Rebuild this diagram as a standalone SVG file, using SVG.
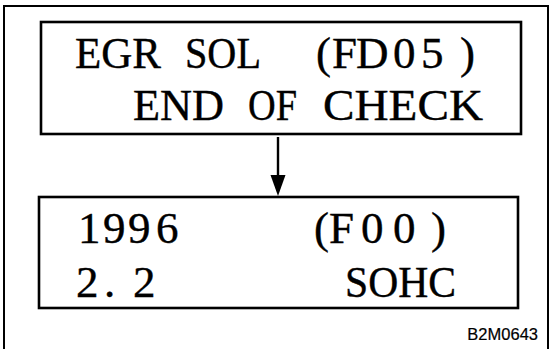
<svg xmlns="http://www.w3.org/2000/svg" width="550" height="349" viewBox="0 0 550 349">
<defs>
<style>
.frame{fill:none;stroke:#000;stroke-width:2}
.box{fill:#fff;stroke:#000;stroke-width:2.6}
.t{font-family:"Liberation Serif","Times New Roman",serif;font-size:45px;fill:#000;stroke:#000;stroke-width:0.4}
.code{font-family:"Liberation Sans",Arial,sans-serif;font-size:16.5px;fill:#000;stroke:#000;stroke-width:0.2}
.conn{stroke:#000;stroke-width:2.4;fill:none}
</style>
</defs>
<rect width="550" height="349" fill="#fff"/>
<rect class="frame" x="4" y="6" width="544" height="352"/>
<g id="connectors">
<line class="conn" x1="278" y1="137" x2="278" y2="180"/>
<polygon points="270.5,175 285.5,175 278,196" fill="#000"/>
</g>
<g id="node-top">
<rect class="box" x="41" y="22" width="480" height="112"/>
<text class="t" x="75" y="68" textLength="86" lengthAdjust="spacingAndGlyphs">EGR</text>
<text class="t" x="185" y="68" textLength="76" lengthAdjust="spacingAndGlyphs">SOL</text>
<text class="t" x="316 332 356 393 421 460" y="68">(FD05)</text>
<text class="t" x="133" y="120" textLength="91" lengthAdjust="spacingAndGlyphs">END</text>
<text class="t" x="248" y="120" textLength="49" lengthAdjust="spacingAndGlyphs">OF</text>
<text class="t" x="323" y="120" textLength="160" lengthAdjust="spacingAndGlyphs">CHECK</text>
</g>
<g id="node-bottom">
<rect class="box" x="39" y="197" width="479" height="111"/>
<text class="t" x="78 103 128 156" y="243">1996</text>
<text class="t" x="314 329 361 393 431" y="243">(F00)</text>
<text class="t" x="76 104 133" y="297">2.2</text>
<text class="t" x="345" y="297" textLength="111" lengthAdjust="spacingAndGlyphs">SOHC</text>
</g>
<text class="code" x="538" y="340" text-anchor="end">B2M0643</text>
</svg>
